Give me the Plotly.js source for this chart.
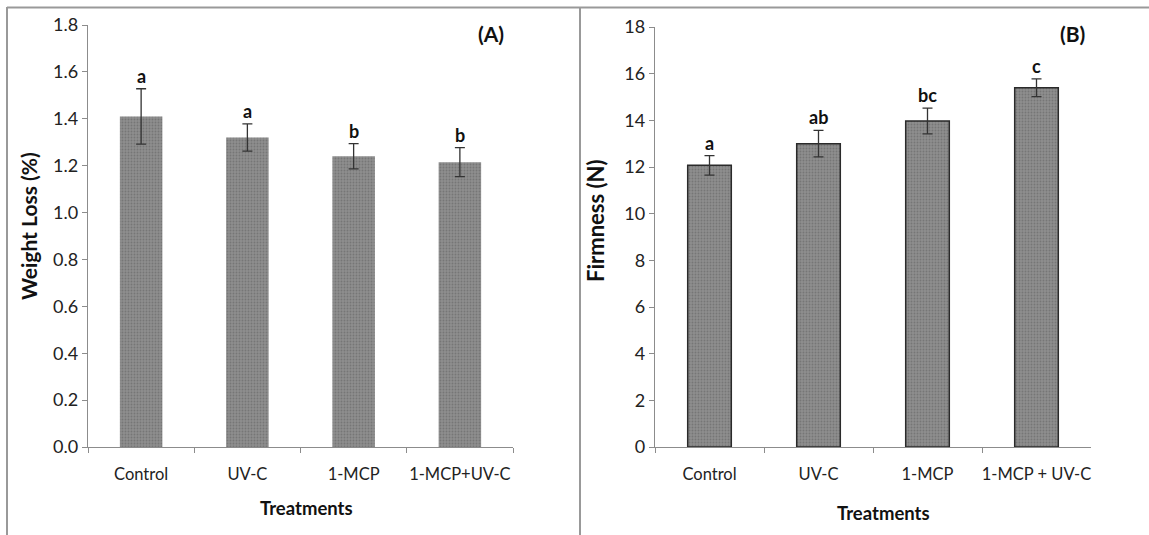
<!DOCTYPE html>
<html>
<head>
<meta charset="utf-8">
<script src="https://cdn.plot.ly/plotly-3.0.1.min.js"></script>
<style>html,body{margin:0;padding:0;background:#fff;}#chart{width:1149px;height:535px;}</style>
</head>
<body>
<div id="chart"></div>
<script>
// ---- Data ----
var treatmentsA = ['Control', 'UV-C', '1-MCP', '1-MCP+UV-C'];
var weightLoss = [1.41, 1.32, 1.24, 1.215];
var weightLossErr = [0.118, 0.058, 0.054, 0.062];
var lettersA = ['a', 'a', 'b', 'b'];

var treatmentsB = ['Control', 'UV-C', '1-MCP', '1-MCP + UV-C'];
var firmness = [12.07, 13.0, 13.97, 15.4];
var firmnessErr = [0.42, 0.57, 0.55, 0.38];
var lettersB = ['a', 'ab', 'bc', 'c'];

var W = 1149, H = 535;
function px(x) { return x / W; }
function py(y) { return 1 - y / H; }

var FONT = 'Lato, "Open Sans", "DejaVu Sans", sans-serif';
var barPattern = {shape: '.', fgcolor: '#767676', bgcolor: '#8e8e8e', size: 3, solidity: 0.3};

var traceA = {
  type: 'bar', x: treatmentsA, y: weightLoss, xaxis: 'x', yaxis: 'y',
  width: 0.4,
  marker: {color: '#878787', pattern: barPattern, line: {color: '#8a8a8a', width: 0}},
  error_y: {type: 'data', array: weightLossErr, visible: true, color: '#333', thickness: 1.3, width: 5},
  hoverinfo: 'skip'
};
var traceB = {
  type: 'bar', x: treatmentsB, y: firmness, xaxis: 'x2', yaxis: 'y2',
  width: 0.4,
  marker: {color: '#878787', pattern: barPattern, line: {color: '#2a2a2a', width: 1.5}},
  error_y: {type: 'data', array: firmnessErr, visible: true, color: '#333', thickness: 1.3, width: 5},
  hoverinfo: 'skip'
};

function ann(o) {
  o.showarrow = false; o.xanchor = 'center'; o.yanchor = 'middle';
  return o;
}

var annotations = [];
for (var i = 0; i < treatmentsA.length; i++) {
  annotations.push(ann({xref: 'x', yref: 'y', x: treatmentsA[i], y: weightLoss[i] + weightLossErr[i],
    text: '<b>' + lettersA[i] + '</b>', yshift: 13,
    font: {family: FONT, size: 18, color: '#111'}}));
}
for (var j = 0; j < treatmentsB.length; j++) {
  annotations.push(ann({xref: 'x2', yref: 'y2', x: treatmentsB[j], y: firmness[j] + firmnessErr[j],
    text: '<b>' + lettersB[j] + '</b>', yshift: 13,
    font: {family: FONT, size: 18, color: '#111'}}));
}
// panel labels
annotations.push(ann({xref: 'paper', yref: 'paper', x: px(491), y: py(34), text: '<b>(A)</b>',
  font: {family: FONT, size: 21, color: '#111'}}));
annotations.push(ann({xref: 'paper', yref: 'paper', x: px(1072), y: py(34), text: '<b>(B)</b>',
  font: {family: FONT, size: 21, color: '#111'}}));
// axis titles
annotations.push(ann({xref: 'paper', yref: 'paper', x: px(29), y: py(226), text: '<b>Weight Loss (%)</b>',
  textangle: -90, font: {family: FONT, size: 21, color: '#111'}}));
annotations.push(ann({xref: 'paper', yref: 'paper', x: px(595), y: py(221), text: '<b>Firmness (N)</b>',
  textangle: -90, font: {family: FONT, size: 22, color: '#111'}}));
annotations.push(ann({xref: 'paper', yref: 'paper', x: px(306), y: py(508), text: '<b>Treatments</b>',
  font: {family: FONT, size: 18.5, color: '#111'}}));
annotations.push(ann({xref: 'paper', yref: 'paper', x: px(883), y: py(513), text: '<b>Treatments</b>',
  font: {family: FONT, size: 18.5, color: '#111'}}));

var xCommon = {type: 'category', showline: true, linecolor: '#8c8c8c', linewidth: 1.2, ticks: 'outside',
  tickson: 'boundaries', ticklen: 5, tickcolor: '#8c8c8c', showgrid: false, zeroline: false, tickangle: 0,
  tickfont: {family: FONT, size: 16.5, color: '#222'}, ticklabelstandoff: 12, fixedrange: true};
var yCommon = {showline: true, linecolor: '#8c8c8c', linewidth: 1.2, ticks: 'outside', ticklen: 5,
  tickcolor: '#8c8c8c', showgrid: false, zeroline: false,
  tickfont: {family: FONT, size: 18, color: '#222'}, fixedrange: true};

var layout = {
  width: W, height: H, margin: {l: 0, r: 0, t: 0, b: 0},
  paper_bgcolor: '#fff', plot_bgcolor: 'rgba(0,0,0,0)', showlegend: false,
  font: {family: FONT},
  xaxis: Object.assign({}, xCommon, {domain: [px(88), px(513)], anchor: 'y'}),
  yaxis: Object.assign({}, yCommon, {domain: [py(447), py(25)], range: [0, 1.8], dtick: 0.2, tickformat: '.1f', anchor: 'x'}),
  xaxis2: Object.assign({}, xCommon, {domain: [px(655), px(1091)], anchor: 'y2'}),
  yaxis2: Object.assign({}, yCommon, {domain: [py(447), py(27)], range: [0, 18], dtick: 2, anchor: 'x2'}),
  annotations: annotations,
  shapes: [
    {type: 'line', xref: 'paper', yref: 'paper', x0: px(7), x1: px(7), y0: py(7), y1: 0, line: {color: '#999', width: 2}},
    {type: 'line', xref: 'paper', yref: 'paper', x0: px(7), x1: 1, y0: py(7.5), y1: py(7.5), line: {color: '#999', width: 2}},
    {type: 'line', xref: 'paper', yref: 'paper', x0: px(580), x1: px(580), y0: py(7), y1: 0, line: {color: '#999', width: 2}}
  ]
};

Plotly.newPlot('chart', [traceA, traceB], layout, {displayModeBar: false, staticPlot: true});
</script>
</body>
</html>
